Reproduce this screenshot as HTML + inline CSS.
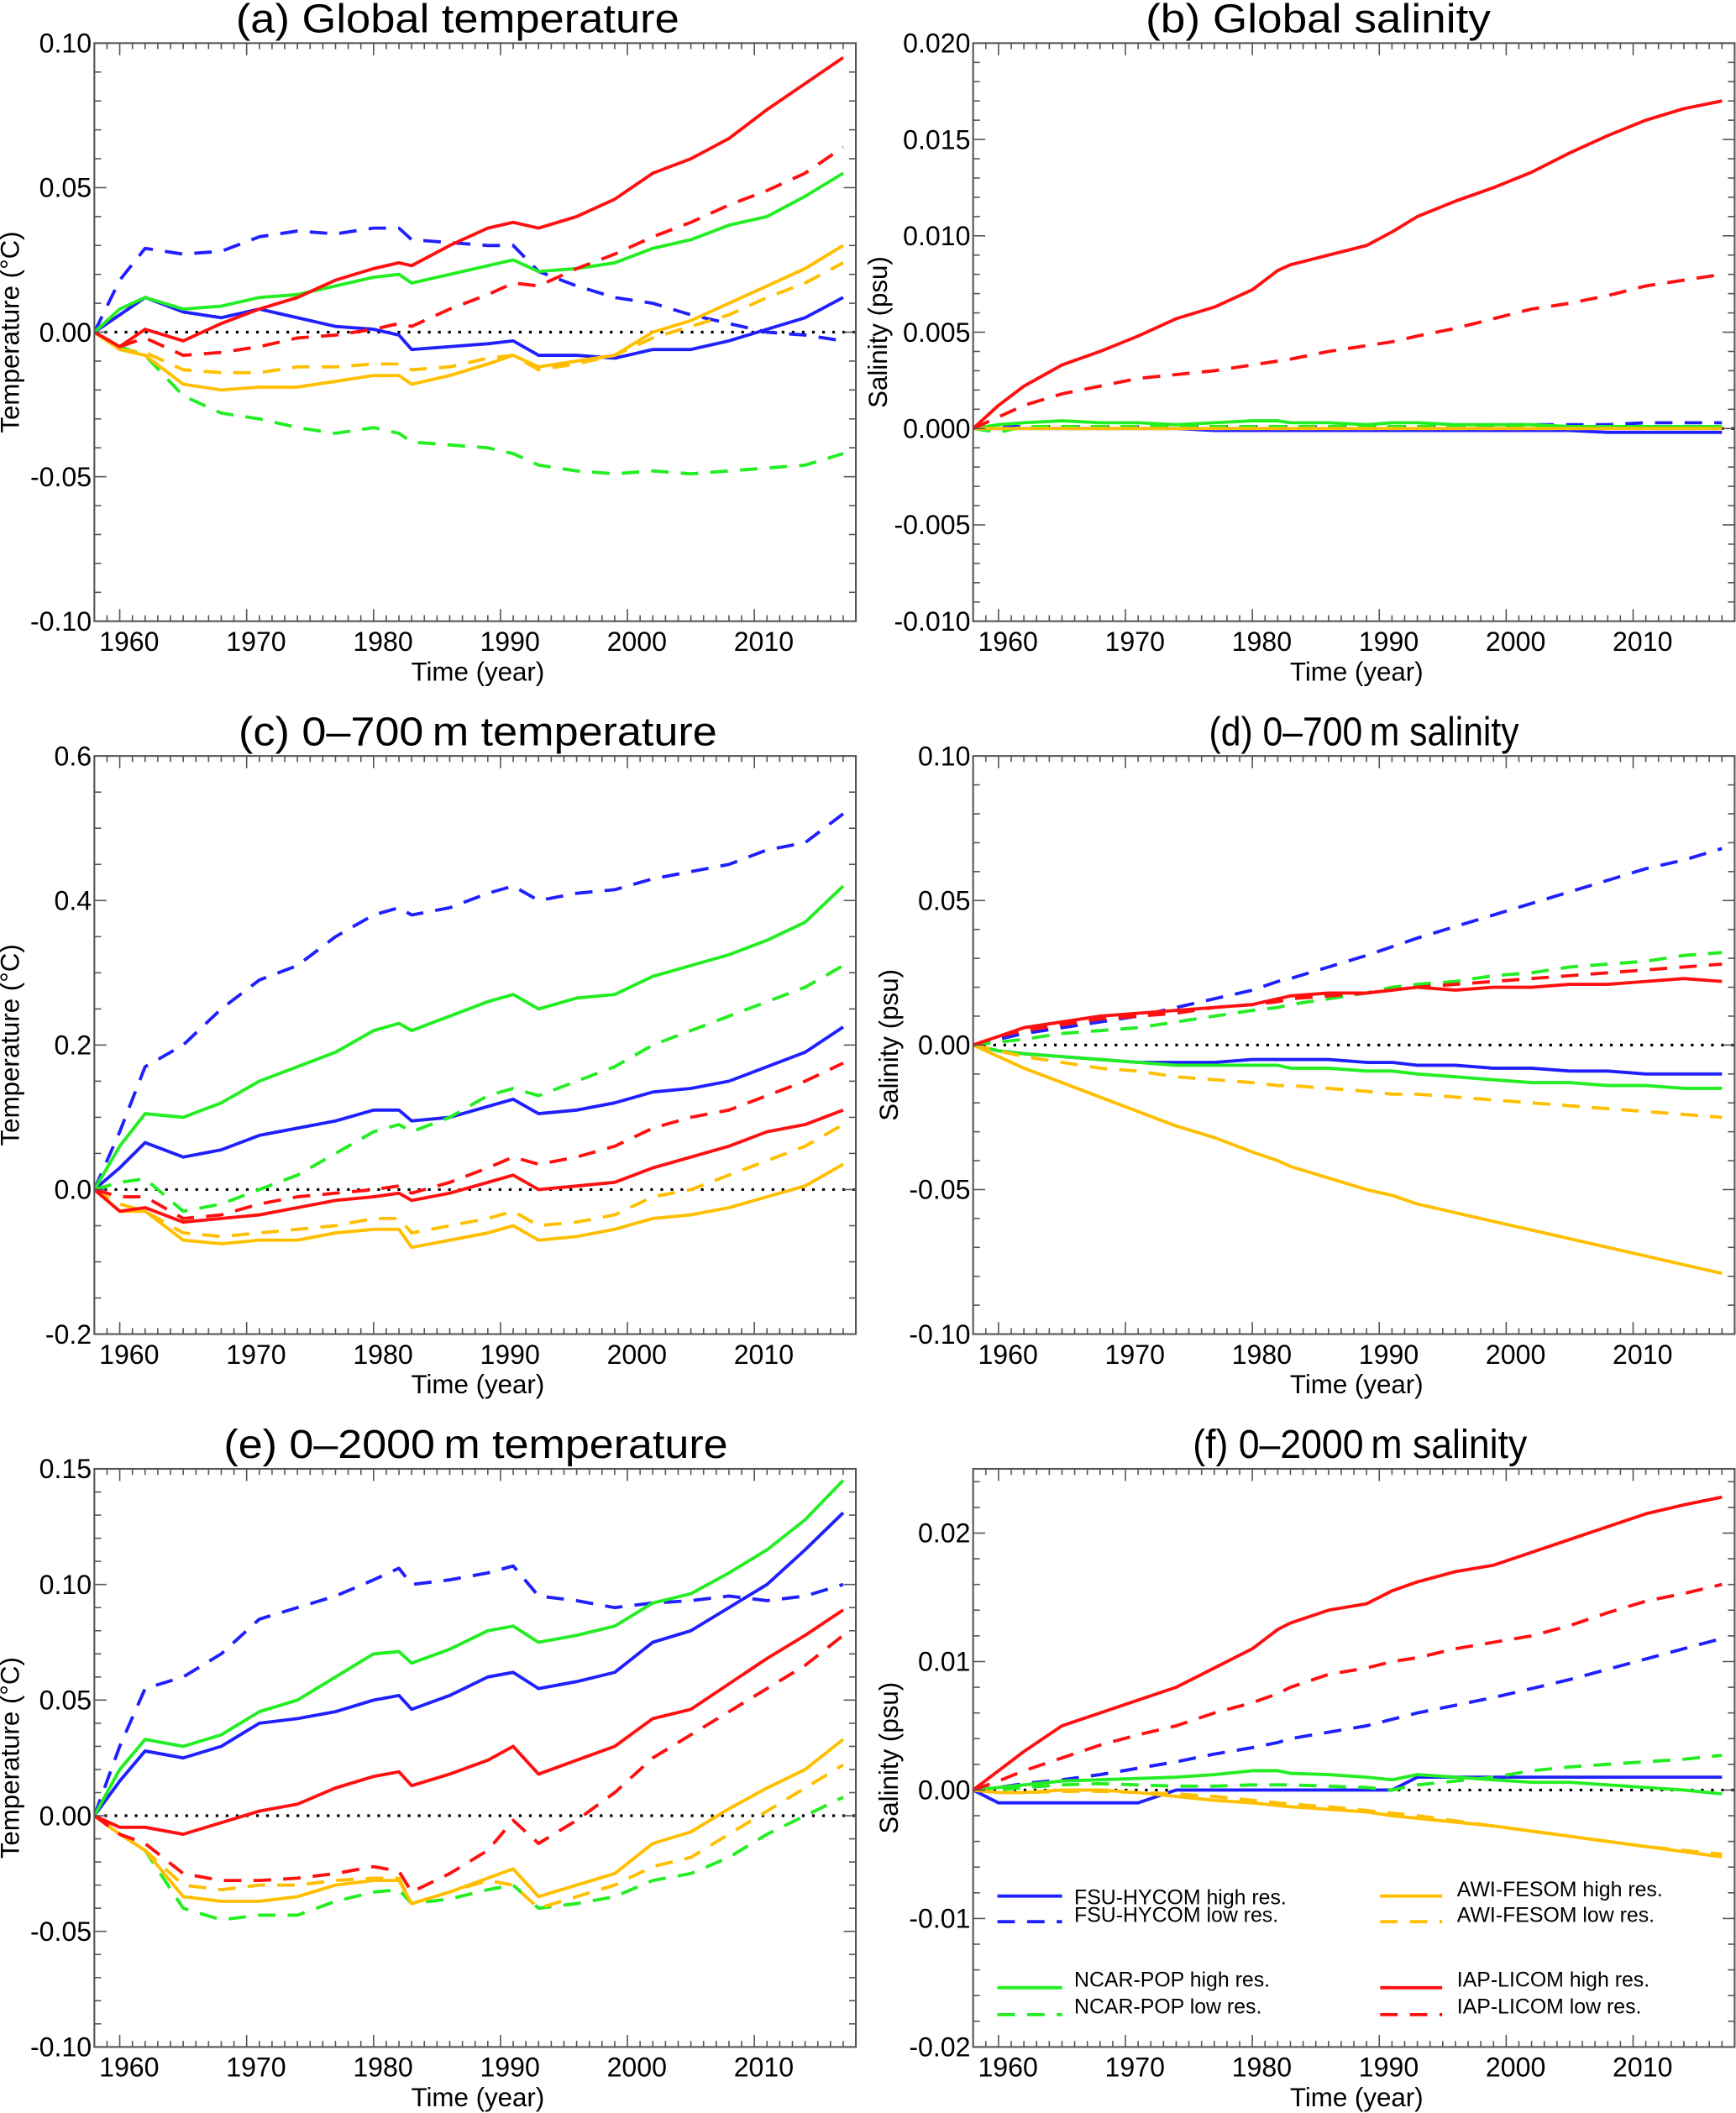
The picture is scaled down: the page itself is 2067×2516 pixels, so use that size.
<!DOCTYPE html>
<html><head><meta charset="utf-8"><style>
html,body{margin:0;padding:0;background:#fff}
svg{display:block}
text{font-family:"Liberation Sans",Arial,sans-serif;fill:#000}
</style></head><body>
<svg id="fig" width="2067" height="2516" viewBox="0 0 1288 1568" preserveAspectRatio="none" xmlns="http://www.w3.org/2000/svg">
<rect x="0" y="0" width="1288" height="1568" fill="#fff"/>
<g id="legend">
 <g><line x1="740" y1="1407" x2="788" y2="1407" stroke="#2020ff" stroke-width="2.4"/><text x="797" y="1409" font-size="15.5" dominant-baseline="middle">FSU-HYCOM high res.</text></g>
 <g><line x1="740" y1="1426" x2="788" y2="1426" stroke="#2020ff" stroke-width="2.4" stroke-dasharray="13,9"/><text x="797" y="1422" font-size="15.5" dominant-baseline="middle">FSU-HYCOM low res.</text></g>
 <g><line x1="740" y1="1475" x2="788" y2="1475" stroke="#22ee22" stroke-width="2.4"/><text x="797" y="1470" font-size="15.5" dominant-baseline="middle">NCAR-POP high res.</text></g>
 <g><line x1="740" y1="1495" x2="788" y2="1495" stroke="#22ee22" stroke-width="2.4" stroke-dasharray="13,9"/><text x="797" y="1490" font-size="15.5" dominant-baseline="middle">NCAR-POP low res.</text></g>
 <g><line x1="1024" y1="1407" x2="1070" y2="1407" stroke="#ffbf00" stroke-width="2.4"/><text x="1081" y="1403" font-size="15.5" dominant-baseline="middle">AWI-FESOM high res.</text></g>
 <g><line x1="1024" y1="1426" x2="1070" y2="1426" stroke="#ffbf00" stroke-width="2.4" stroke-dasharray="13,9"/><text x="1081" y="1422" font-size="15.5" dominant-baseline="middle">AWI-FESOM low res.</text></g>
 <g><line x1="1024" y1="1475" x2="1070" y2="1475" stroke="#ff1010" stroke-width="2.4"/><text x="1081" y="1470" font-size="15.5" dominant-baseline="middle">IAP-LICOM high res.</text></g>
 <g><line x1="1024" y1="1495" x2="1070" y2="1495" stroke="#ff1010" stroke-width="2.4" stroke-dasharray="13,9"/><text x="1081" y="1490" font-size="15.5" dominant-baseline="middle">IAP-LICOM low res.</text></g>
</g>
</svg>
<script>
const years=[1958,1960,1962,1965,1968,1971,1974,1977,1980,1982,1983,1986,1989,1991,1993,1996,1999,2002,2005,2008,2011,2014,2017];
const yearTicks=[1960,1970,1980,1990,2000,2010];
// panel a
const aRedS=[0,-0.005,0.001,-0.003,0.003,0.008,0.012,0.018,0.022,0.024,0.023,0.030,0.036,0.038,0.036,0.040,0.046,0.055,0.060,0.067,0.077,0.086,0.095];
const aRedD=[0,-0.005,-0.002,-0.008,-0.007,-0.005,-0.002,-0.001,0.001,0.003,0.002,0.008,0.013,0.017,0.016,0.022,0.027,0.033,0.038,0.044,0.049,0.055,0.064];
const aGreenS=[0,0.008,0.012,0.008,0.009,0.012,0.013,0.016,0.019,0.020,0.017,0.020,0.023,0.025,0.021,0.022,0.024,0.029,0.032,0.037,0.040,0.047,0.055];
const aGreenD=[0,-0.005,-0.008,-0.022,-0.028,-0.030,-0.033,-0.035,-0.033,-0.035,-0.038,-0.039,-0.040,-0.042,-0.046,-0.048,-0.049,-0.048,-0.049,-0.048,-0.047,-0.046,-0.042];
const aBlueS=[0,0.006,0.012,0.007,0.005,0.008,0.005,0.002,0.001,-0.001,-0.006,-0.005,-0.004,-0.003,-0.008,-0.008,-0.009,-0.006,-0.006,-0.003,0.001,0.005,0.012];
const aBlueD=[0,0.018,0.029,0.027,0.028,0.033,0.035,0.034,0.036,0.036,0.032,0.031,0.030,0.030,0.021,0.016,0.012,0.010,0.006,0.003,0.000,-0.001,-0.003];
const aOrangeS=[0,-0.006,-0.008,-0.018,-0.020,-0.019,-0.019,-0.017,-0.015,-0.015,-0.018,-0.015,-0.011,-0.008,-0.012,-0.010,-0.008,0.000,0.004,0.010,0.016,0.022,0.030];
const aOrangeD=[0,-0.006,-0.007,-0.013,-0.014,-0.014,-0.012,-0.012,-0.011,-0.011,-0.013,-0.012,-0.009,-0.008,-0.013,-0.011,-0.008,-0.002,0.002,0.006,0.012,0.017,0.024];
const aTicks=["0.10","0.05","0.00","-0.05","-0.10"];
// panel b
const bRedS=[0,0.0012,0.0022,0.0033,0.004,0.0048,0.0057,0.0063,0.0072,0.0082,0.0085,0.009,0.0095,0.0102,0.011,0.0118,0.0125,0.0133,0.0143,0.0152,0.016,0.0166,0.017];
const bRedD=[0,0.0006,0.0012,0.0018,0.0022,0.0026,0.0028,0.003,0.0033,0.0035,0.0036,0.004,0.0043,0.0045,0.0048,0.0052,0.0057,0.0062,0.0065,0.0069,0.0074,0.0077,0.008];
const bGreenS=[0,0.0002,0.0003,0.0004,0.0003,0.0003,0.0002,0.0003,0.0004,0.0004,0.0003,0.0003,0.0002,0.0003,0.0003,0.0002,0.0002,0.0002,0.0001,0.0001,0.0001,0.0001,0.0001];
const bGreenD=[0,-0.0002,0.0001,0.0001,0.0001,0.0001,0.0001,0.0001,0.0001,0.0001,0.0001,0.0001,0.0001,0.0001,0.0001,0.0001,0.0001,0.0001,0.0001,0.0001,0.0001,0.0001,0.0001];
const bBlueS=[0,0,0,0,0,0,0,-0.0001,-0.0001,-0.0001,-0.0001,-0.0001,-0.0001,-0.0001,-0.0001,-0.0001,-0.0001,-0.0001,-0.0001,-0.0002,-0.0002,-0.0002,-0.0002];
const bBlueD=[0,0.0001,0.0001,0.0001,0.0001,0.0001,0.0001,0.0001,0.0001,0.0001,0.0001,0.0001,0.0001,0.0001,0.0001,0.0001,0.0002,0.0002,0.0002,0.0002,0.0003,0.0003,0.0003];
const bOrangeS=[0,0,0,0,0,0,0,0,0,0,0,0,0,0,0,0,0,0,0,0,0,0,0];
const bOrangeD=[0,0,0,0,0,0,0,0,0,0,0,0,0,0,0,0,0,0,0,0,0,0,0];
const bTicks=["0.020","0.015","0.010","0.005","0.000","-0.005","-0.010"];
// panel c
const cBlueD=[0,0.08,0.17,0.2,0.25,0.29,0.31,0.35,0.38,0.39,0.38,0.39,0.41,0.42,0.40,0.41,0.415,0.43,0.44,0.45,0.47,0.48,0.52];
const cGreenS=[0,0.06,0.105,0.10,0.12,0.15,0.17,0.19,0.22,0.23,0.22,0.24,0.26,0.27,0.25,0.265,0.27,0.295,0.31,0.325,0.345,0.37,0.42];
const cGreenD=[0,0.01,0.015,-0.03,-0.02,0.0,0.02,0.05,0.08,0.09,0.08,0.10,0.13,0.14,0.13,0.15,0.17,0.20,0.22,0.24,0.26,0.28,0.31];
const cBlueS=[0,0.03,0.065,0.045,0.055,0.075,0.085,0.095,0.11,0.11,0.095,0.10,0.115,0.125,0.105,0.11,0.12,0.135,0.14,0.15,0.17,0.19,0.225];
const cRedD=[0,-0.01,-0.01,-0.04,-0.035,-0.02,-0.01,-0.005,0.0,0.005,-0.005,0.01,0.03,0.045,0.035,0.045,0.06,0.085,0.1,0.11,0.13,0.15,0.175];
const cRedS=[0,-0.03,-0.025,-0.045,-0.04,-0.035,-0.025,-0.015,-0.01,-0.005,-0.015,-0.005,0.01,0.02,0.0,0.005,0.01,0.03,0.045,0.06,0.08,0.09,0.11];
const cOrangeD=[0,-0.02,-0.03,-0.06,-0.065,-0.06,-0.055,-0.05,-0.04,-0.04,-0.06,-0.05,-0.04,-0.03,-0.05,-0.045,-0.035,-0.01,0.0,0.02,0.04,0.06,0.09];
const cOrangeS=[0,-0.03,-0.03,-0.07,-0.075,-0.07,-0.07,-0.06,-0.055,-0.055,-0.08,-0.07,-0.06,-0.05,-0.07,-0.065,-0.055,-0.04,-0.035,-0.025,-0.01,0.005,0.035];
const cTicks=["0.6","0.4","0.2","0.0","-0.2"];
// panel d
const dBlueD=[0,0.002,0.004,0.006,0.008,0.01,0.013,0.016,0.019,0.022,0.023,0.027,0.031,0.034,0.037,0.041,0.045,0.049,0.053,0.057,0.061,0.064,0.068];
const dGreenD=[0,0.001,0.002,0.004,0.005,0.006,0.008,0.01,0.012,0.013,0.014,0.016,0.018,0.02,0.021,0.022,0.024,0.025,0.027,0.028,0.029,0.031,0.032];
const dRedD=[0,0.003,0.005,0.007,0.009,0.01,0.011,0.013,0.014,0.015,0.016,0.017,0.018,0.019,0.02,0.021,0.022,0.023,0.024,0.025,0.026,0.027,0.028];
const dRedS=[0,0.003,0.006,0.008,0.010,0.011,0.012,0.013,0.014,0.016,0.017,0.018,0.018,0.019,0.020,0.019,0.020,0.020,0.021,0.021,0.022,0.023,0.022];
const dBlueS=[0,-0.002,-0.003,-0.004,-0.005,-0.006,-0.006,-0.006,-0.005,-0.005,-0.005,-0.005,-0.006,-0.006,-0.007,-0.007,-0.008,-0.008,-0.009,-0.009,-0.010,-0.010,-0.010];
const dGreenS=[0,-0.002,-0.003,-0.004,-0.005,-0.006,-0.007,-0.007,-0.007,-0.007,-0.008,-0.008,-0.009,-0.009,-0.010,-0.011,-0.012,-0.013,-0.013,-0.014,-0.014,-0.015,-0.015];
const dOrangeD=[0,-0.002,-0.004,-0.006,-0.008,-0.009,-0.011,-0.012,-0.013,-0.014,-0.014,-0.015,-0.016,-0.017,-0.017,-0.018,-0.019,-0.020,-0.021,-0.022,-0.023,-0.024,-0.025];
const dOrangeS=[0,-0.004,-0.008,-0.013,-0.018,-0.023,-0.028,-0.032,-0.037,-0.040,-0.042,-0.046,-0.050,-0.052,-0.055,-0.058,-0.061,-0.064,-0.067,-0.070,-0.073,-0.076,-0.079];
const dTicks=["0.10","0.05","0.00","-0.05","-0.10"];
// panel e
const eBlueD=[0,0.03,0.055,0.06,0.07,0.085,0.09,0.095,0.102,0.107,0.100,0.102,0.105,0.108,0.095,0.093,0.09,0.092,0.093,0.095,0.093,0.095,0.10];
const eGreenS=[0,0.02,0.033,0.03,0.035,0.045,0.05,0.06,0.07,0.071,0.066,0.072,0.08,0.082,0.075,0.078,0.082,0.092,0.096,0.105,0.115,0.128,0.145];
const eBlueS=[0,0.015,0.028,0.025,0.03,0.04,0.042,0.045,0.05,0.052,0.046,0.052,0.06,0.062,0.055,0.058,0.062,0.075,0.08,0.09,0.10,0.115,0.131];
const eRedS=[0,-0.005,-0.005,-0.008,-0.003,0.002,0.005,0.012,0.017,0.019,0.013,0.018,0.024,0.03,0.018,0.024,0.03,0.042,0.046,0.057,0.068,0.078,0.089];
const eRedD=[0,-0.008,-0.012,-0.025,-0.028,-0.028,-0.027,-0.025,-0.022,-0.024,-0.033,-0.025,-0.015,-0.002,-0.012,-0.002,0.01,0.025,0.035,0.045,0.055,0.065,0.078];
const eOrangeS=[0,-0.008,-0.015,-0.035,-0.037,-0.037,-0.035,-0.03,-0.028,-0.028,-0.038,-0.033,-0.027,-0.023,-0.035,-0.03,-0.025,-0.012,-0.007,0.003,0.012,0.02,0.033];
const eOrangeD=[0,-0.008,-0.015,-0.03,-0.032,-0.03,-0.03,-0.028,-0.027,-0.027,-0.038,-0.033,-0.028,-0.03,-0.04,-0.035,-0.03,-0.022,-0.018,-0.008,0.002,0.012,0.022];
const eGreenD=[0,-0.008,-0.015,-0.04,-0.045,-0.043,-0.043,-0.037,-0.033,-0.032,-0.038,-0.036,-0.032,-0.03,-0.04,-0.038,-0.035,-0.028,-0.025,-0.018,-0.008,0.0,0.008];
const eTicks=["0.15","0.10","0.05","0.00","-0.05","-0.10"];
// panel f
const fRedS=[0,0.0015,0.003,0.005,0.006,0.007,0.008,0.0095,0.011,0.0125,0.013,0.014,0.0145,0.0155,0.0162,0.017,0.0175,0.0185,0.0195,0.0205,0.0215,0.0222,0.0228];
const fRedD=[0,0.0007,0.0015,0.0025,0.0035,0.0043,0.005,0.006,0.0068,0.0075,0.008,0.009,0.0095,0.010,0.0103,0.011,0.0115,0.012,0.0128,0.0138,0.0147,0.0153,0.016];
const fBlueD=[0,0.0002,0.0005,0.0008,0.0012,0.0017,0.0022,0.0028,0.0033,0.0037,0.004,0.0045,0.005,0.0055,0.006,0.0066,0.0072,0.0079,0.0086,0.0094,0.0102,0.011,0.0118];
const fGreenS=[0,0.0002,0.0004,0.0007,0.0008,0.0009,0.001,0.0012,0.0015,0.0015,0.0013,0.0012,0.001,0.0008,0.0012,0.001,0.0008,0.0006,0.0006,0.0004,0.0002,0.0,-0.0003];
const fGreenD=[0,0.0,0.0002,0.0004,0.0005,0.0004,0.0003,0.0003,0.0004,0.0004,0.0004,0.0003,0.0002,0.0,0.0004,0.0007,0.001,0.0015,0.0018,0.002,0.0022,0.0024,0.0027];
const fBlueS=[0,-0.001,-0.001,-0.001,-0.001,-0.001,0,0,0,0,0,0,0,0,0.001,0.001,0.001,0.001,0.001,0.001,0.001,0.001,0.001];
const fOrangeS=[0,-0.0002,-0.0002,0,0,-0.0002,-0.0005,-0.0008,-0.001,-0.0012,-0.0013,-0.0015,-0.0017,-0.002,-0.0022,-0.0025,-0.0028,-0.0032,-0.0036,-0.004,-0.0044,-0.0048,-0.0052];
const fOrangeD=[0,-0.0002,-0.0002,-0.0001,-0.0001,-0.0002,-0.0003,-0.0005,-0.0008,-0.001,-0.0011,-0.0013,-0.0016,-0.0018,-0.002,-0.0024,-0.0028,-0.0032,-0.0036,-0.004,-0.0044,-0.0047,-0.005];
const fTicks=["0.02","0.01","0.00","-0.01","-0.02"];

const NS="http://www.w3.org/2000/svg";
const svg=document.getElementById('fig');
const BLUE="#2020ff",GREEN="#22ee22",ORANGE="#ffbf00",RED="#ff1010";
function mk(tag,attrs,parent){const e=document.createElementNS(NS,tag);for(const k in attrs)e.setAttribute(k,attrs[k]);(parent||svg).appendChild(e);return e;}

function panel(o){
  const g=mk('g',{});
  
  
  const L=o.x0,R=o.x0+565,T=o.y0,B=o.y0+429;
  const xs=y=>L+(y-1958)/60*(R-L);
  const ys=v=>T+(o.ymax-v)/(o.ymax-o.ymin)*(B-T);
  const z=mk('line',{x1:L,x2:R,y1:ys(0),y2:ys(0),stroke:'#000','stroke-width':2,'stroke-dasharray':'2,5.5'},g);
  
  
  const clip='clip-'+o.id;
  const cp=mk('clipPath',{id:clip},g);mk('rect',{x:L,y:T,width:R-L,height:B-T},cp);
  o.series.forEach(s=>{
    const pts=years.map((yr,i)=>xs(yr).toFixed(2)+','+ys(s.vals[i]).toFixed(2)).join(' ');
    const p=mk('polyline',{points:pts,fill:'none',stroke:s.color,'stroke-width':2.4,'stroke-linejoin':'round','clip-path':'url(#'+clip+')'},g);
    if(s.dash)p.setAttribute('stroke-dasharray','13,9');
    
    
  });
  const ax=mk('rect',{x:L,y:T,width:R-L,height:B-T,fill:'none',stroke:'#555','stroke-width':1.3},g);
  
  
  for(let yr=1958;yr<=2018;yr++){
    const x=xs(yr),maj=yr%10===0,len=maj?9:4.5;
    mk('line',{x1:x,x2:x,y1:B,y2:B-len,stroke:'#555','stroke-width':1},g);
    mk('line',{x1:x,x2:x,y1:T,y2:T+len,stroke:'#555','stroke-width':1},g);
  }
  yearTicks.forEach(yr=>{
    const t=mk('text',{x:xs(yr)+7,y:B+22,'font-size':20,'text-anchor':'middle'},g);t.textContent=yr;
    
    
  });
  const nMaj=o.ticks.length-1;
  const lo=o.tlo!==undefined?o.tlo:o.ymin, hi=o.thi!==undefined?o.thi:o.ymax;
  const step=(hi-lo)/(nMaj*o.minor);
  for(let v=hi;v>=o.ymin-1e-9;v-=step){
    const i=Math.round((hi-v)/step),y=ys(v),maj=i%o.minor===0,len=maj?9:5;
    mk('line',{x1:L,x2:L+len,y1:y,y2:y,stroke:'#555','stroke-width':1},g);
    mk('line',{x1:R,x2:R-len,y1:y,y2:y,stroke:'#555','stroke-width':1},g);
  }
  for(let v=hi+step;v<=o.ymax+1e-9;v+=step){
    const y=ys(v);
    mk('line',{x1:L,x2:L+5,y1:y,y2:y,stroke:'#555','stroke-width':1},g);
    mk('line',{x1:R,x2:R-5,y1:y,y2:y,stroke:'#555','stroke-width':1},g);
  }
  o.ticks.forEach((lab,i)=>{
    const v=hi-(hi-lo)*i/nMaj;
    const t=mk('text',{x:L-2,y:ys(v)+7,'font-size':20,'text-anchor':'end'},g);t.textContent=lab;
    
    
  });
  const xt=mk('text',{x:(L+R)/2+2,y:B+44,'font-size':19.5,'text-anchor':'middle'},g);xt.textContent='Time (year)';
  
  
  const yc=(T+B)/2,yx=L-o.ylabOff;
  const yt=mk('text',{x:yx,y:yc,'font-size':19.5,'text-anchor':'middle',transform:'rotate(-90 '+yx+' '+yc+')'},g);yt.textContent=o.ylabel;
  
  
  const tt=mk('text',{x:o.tx,y:T-8,'font-size':30,textLength:o.tw,lengthAdjust:'spacingAndGlyphs'},g);tt.textContent=o.title;
  
  
}
function S(b,g,o,r,bs,gs,os,rs){return[
 {name:'fsu-hycom-high',color:BLUE,vals:b},{name:'fsu-hycom-low',color:BLUE,dash:1,vals:bs},
 {name:'ncar-pop-high',color:GREEN,vals:g},{name:'ncar-pop-low',color:GREEN,dash:1,vals:gs},
 {name:'awi-fesom-high',color:ORANGE,vals:o},{name:'awi-fesom-low',color:ORANGE,dash:1,vals:os},
 {name:'iap-licom-high',color:RED,vals:r},{name:'iap-licom-low',color:RED,dash:1,vals:rs}];}
const TL='Temperature (\u00B0C)',SL='Salinity (psu)';
panel({id:'a',x0:70,y0:32,ymin:-0.1,ymax:0.1,ticks:aTicks,minor:5,ylabel:TL,ylabOff:56,title:'(a) Global temperature',tx:175,tw:329,
 series:S(aBlueS,aGreenS,aOrangeS,aRedS,aBlueD,aGreenD,aOrangeD,aRedD)});
panel({id:'b',x0:722,y0:32,ymin:-0.01,ymax:0.02,ticks:bTicks,minor:5,ylabel:SL,ylabOff:64,title:'(b) Global salinity',tx:850,tw:256,
 series:S(bBlueS,bGreenS,bOrangeS,bRedS,bBlueD,bGreenD,bOrangeD,bRedD)});
panel({id:'c',x0:70,y0:561,ymin:-0.2,ymax:0.6,ticks:cTicks,minor:4,ylabel:TL,ylabOff:56,title:'(c) 0\u2013700\u2009m temperature',tx:177,tw:355,
 series:S(cBlueS,cGreenS,cOrangeS,cRedS,cBlueD,cGreenD,cOrangeD,cRedD)});
panel({id:'d',x0:722,y0:561,ymin:-0.1,ymax:0.1,ticks:dTicks,minor:5,ylabel:SL,ylabOff:56,title:'(d) 0\u2013700\u2009m salinity',tx:897,tw:230,
 series:S(dBlueS,dGreenS,dOrangeS,dRedS,dBlueD,dGreenD,dOrangeD,dRedD)});
panel({id:'e',x0:70,y0:1090,ymin:-0.1,ymax:0.15,ticks:eTicks,minor:5,ylabel:TL,ylabOff:56,title:'(e) 0\u20132000\u2009m temperature',tx:166,tw:374,
 series:S(eBlueS,eGreenS,eOrangeS,eRedS,eBlueD,eGreenD,eOrangeD,eRedD)});
panel({id:'f',x0:722,y0:1090,ymin:-0.02,ymax:0.025,tlo:-0.02,thi:0.02,ticks:fTicks,minor:5,ylabel:SL,ylabOff:56,title:'(f) 0\u20132000\u2009m salinity',tx:885,tw:248,
 series:S(fBlueS,fGreenS,fOrangeS,fRedS,fBlueD,fGreenD,fOrangeD,fRedD)});
</script>
</body></html>
